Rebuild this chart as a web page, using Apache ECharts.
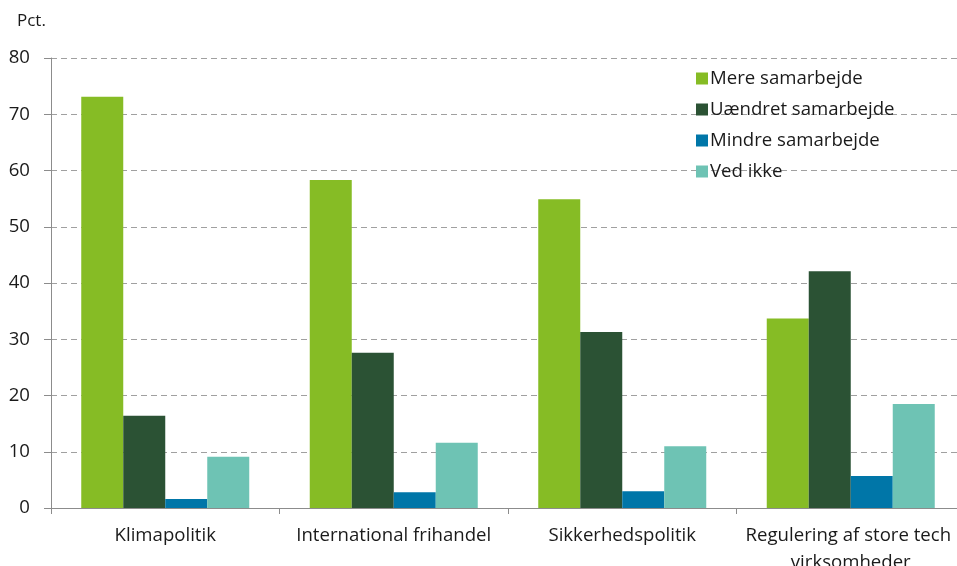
<!DOCTYPE html>
<html><head><meta charset="utf-8">
<script src="https://cdn.jsdelivr.net/npm/echarts@6/dist/echarts.min.js"></script>
<style>html,body{margin:0;padding:0;background:#fff}#c{width:957px;height:566px}</style>
</head><body><div id="c"></div>
<script>
const categories = ['Klimapolitik', 'International frihandel', 'Sikkerhedspolitik', 'Regulering af store tech virksomheder'];
const seriesNames = ['Mere samarbejde', 'Uændret samarbejde', 'Mindre samarbejde', 'Ved ikke'];
const mere = [73.1, 58.3, 54.9, 33.7];
const uaendret = [16.4, 27.6, 31.3, 42.1];
const mindre = [1.6, 2.8, 3.0, 5.7];
const vedIkke = [9.1, 11.6, 11.0, 18.5];
const yTicks = [0, 10, 20, 30, 40, 50, 60, 70, 80];
const colors = ['#86BC25', '#2B5234', '#0076A8', '#6EC3B4'];
const values = [mere, uaendret, mindre, vedIkke];
const font = 'Open Sans';
const fs = 18.6;
const chart = echarts.init(document.getElementById('c'));
chart.setOption({
  animation: false,
  textStyle: {fontFamily: font},
  title: {text: 'Pct.', left: 12, top: 8, textStyle: {fontFamily: font, fontSize: 17, fontWeight: 'normal', color: '#1a1a1a'}},
  legend: {
    orient: 'vertical', left: 691, top: 64, itemWidth: 12, itemHeight: 12, itemGap: 12,
    icon: 'rect', textStyle: {fontFamily: font, fontSize: fs, color: '#1a1a1a', padding: [0,0,0,-3]},
    data: seriesNames
  },
  grid: {left: 51, top: 58, width: 914, height: 450, containLabel: false, outerBoundsMode: 'none'},
  xAxis: {
    type: 'category', data: categories,
    axisLine: {lineStyle: {color: '#8c8c8c', width: 1}},
    axisTick: {show: true, length: 6, lineStyle: {color: '#8c8c8c'}},
    axisLabel: {fontFamily: font, fontSize: fs, color: '#1a1a1a', margin: 14, width: 225, overflow: 'break', lineHeight: 27, interval: 0}
  },
  yAxis: {
    type: 'value', min: yTicks[0], max: yTicks[yTicks.length-1], interval: 10,
    axisLine: {show: true, lineStyle: {color: '#8c8c8c'}},
    axisTick: {show: true, length: 7, lineStyle: {color: '#8c8c8c'}},
    axisLabel: {fontFamily: font, fontSize: fs, color: '#1a1a1a', margin: 21},
    splitLine: {lineStyle: {color: '#a0a0a0', type: [6, 4], width: 1}}
  },
  series: seriesNames.map((n, i) => ({
    name: n, type: 'bar', data: values[i], barWidth: 42, barGap: '0%',
    itemStyle: {color: colors[i]}
  }))
});
</script></body></html>
